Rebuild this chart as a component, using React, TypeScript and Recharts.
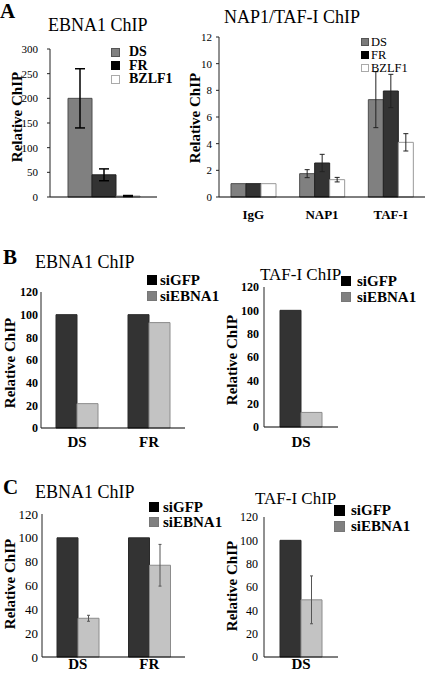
import React from 'react';
import { BarChart, Bar, XAxis, YAxis, ErrorBar, Legend } from 'recharts';

const FONT = "'Liberation Serif', 'Times New Roman', Times, serif";

// ---------- Panel A (left): EBNA1 ChIP ----------
const aLeftCategories = ['EBNA1'];
const aLeftDS = [200];
const aLeftDSErr = [60];
const aLeftFR = [45];
const aLeftFRErr = [12];
const aLeftBZLF1 = [2];
const aLeftBZLF1Err = [1];
const aLeftTicks = [0, 50, 100, 150, 200, 250, 300];

// ---------- Panel A (right): NAP1/TAF-I ChIP ----------
const aRightCategories = ['IgG', 'NAP1', 'TAF-I'];
const aRightDS = [1, 1.75, 7.3];
const aRightDSErr = [null, 0.3, 2.1];
const aRightFR = [1, 2.55, 7.95];
const aRightFRErr = [null, 0.65, 1.25];
const aRightBZLF1 = [1, 1.3, 4.1];
const aRightBZLF1Err = [null, 0.17, 0.65];
const aRightTicks = [0, 2, 4, 6, 8, 10, 12];

// ---------- Panel B ----------
const bLeftCategories = ['DS', 'FR'];
const bLeftSiGFP = [100, 100];
const bLeftSiEBNA1 = [21.5, 93];
const bRightCategories = ['DS'];
const bRightSiGFP = [100];
const bRightSiEBNA1 = [12.5];

// ---------- Panel C ----------
const cLeftCategories = ['DS', 'FR'];
const cLeftSiGFP = [100, 100];
const cLeftSiEBNA1 = [32.5, 77];
const cLeftSiEBNA1Err = [2.5, 17.5];
const cRightCategories = ['DS'];
const cRightSiGFP = [100];
const cRightSiEBNA1 = [49];
const cRightSiEBNA1Err = [20.5];

const siTicks = [0, 20, 40, 60, 80, 100, 120];

type Series = {
  key: string;
  name: string;
  fill: string;
  stroke: string;
  legendFill: string;
  legendStroke: string;
  errKey?: string;
};

type PanelProps = {
  data: any[];
  series: Series[];
  x0: number;
  x1: number;
  yTop: number;
  yBottom: number;
  domainMax: number;
  ticks: number[];
  barSize: number;
  yTickSize: number;
  yTickWeight: any;
  yTickGap: number;
  yTickLine: number;
  showXTicks: boolean;
  xTickSize: number;
  xTickGap: number;
  legend: { x: number; cy: number; row: number; swatch: number; gap: number; size: number; weight: any };
  err: { width: number; stroke: string; strokeWidth: number };
};

const YW = 45;
const MT = 8;
const XH = 30;

function Panel(p: PanelProps) {
  const plotW = p.x1 - p.x0;
  const plotH = p.yBottom - p.yTop;
  const MR = Math.max(2, p.legend.x + 100 - p.x1);
  const left = p.x0 - YW;
  const top = p.yTop - MT;
  const width = YW + plotW + MR;
  const height = MT + plotH + XH;
  const lg = p.legend;
  return (
    <div style={{ position: 'absolute', left, top }}>
      <BarChart
        width={width}
        height={height}
        data={p.data}
        margin={{ top: MT, right: MR, left: 0, bottom: 0 }}
        barGap={0}
        barSize={p.barSize}
      >
        <XAxis
          dataKey="category"
          height={XH}
          axisLine={{ stroke: '#000', strokeWidth: 1 }}
          tickLine={false}
          tickSize={0}
          tickMargin={p.xTickGap}
          tick={p.showXTicks ? { fontFamily: FONT, fontSize: p.xTickSize, fontWeight: 'bold', fill: '#000' } : false}
          interval={0}
        />
        <YAxis
          width={YW}
          domain={[0, p.domainMax]}
          ticks={p.ticks}
          interval={0}
          axisLine={{ stroke: '#222', strokeWidth: 1 }}
          tickLine={p.yTickLine > 0 ? { stroke: '#222', strokeWidth: 1 } : false}
          tickSize={p.yTickLine}
          tickMargin={p.yTickGap}
          tick={{ fontFamily: FONT, fontSize: p.yTickSize, fontWeight: p.yTickWeight, fill: '#000' }}
        />
        <Legend
          layout="vertical"
          align="center"
          verticalAlign="middle"
          wrapperStyle={{
            position: 'absolute',
            left: lg.x - left,
            top: lg.cy - lg.row / 2 - top,
            width: 100,
          }}
          content={(props: any) => {
            const payload = props.payload || [];
            return (
              <div style={{ fontFamily: FONT }}>
                {p.series.map((s, i) => {
                  const item = payload.find((it: any) => it.dataKey === s.key);
                  const label = item ? item.value : s.name;
                  return (
                    <div key={i} style={{ display: 'flex', alignItems: 'center', height: lg.row, overflow: 'visible' }}>
                      <span
                        style={{
                          display: 'inline-block',
                          width: lg.swatch,
                          height: lg.swatch,
                          background: s.legendFill,
                          border: `1px solid ${s.legendStroke}`,
                          boxSizing: 'border-box',
                          marginRight: lg.gap,
                          flex: 'none',
                        }}
                      />
                      <span
                        style={{
                          fontFamily: FONT,
                          fontSize: lg.size,
                          fontWeight: lg.weight,
                          lineHeight: `${lg.row}px`,
                          whiteSpace: 'nowrap',
                          color: '#000',
                        }}
                      >
                        {label}
                      </span>
                    </div>
                  );
                })}
              </div>
            );
          }}
        />
        {p.series.map((s) => (
          <Bar
            key={s.key}
            dataKey={s.key}
            name={s.name}
            fill={s.fill}
            stroke={s.stroke}
            strokeWidth={1}
            isAnimationActive={false}
          >
            {s.errKey ? (
              <ErrorBar
                dataKey={s.errKey}
                width={p.err.width}
                stroke={p.err.stroke}
                strokeWidth={p.err.strokeWidth}
                direction="y"
                isAnimationActive={false}
              />
            ) : null}
          </Bar>
        ))}
      </BarChart>
    </div>
  );
}

function Label(props: { x: number; y: number; text: string; size: number; weight?: any; anchor?: 'start' | 'middle' }) {
  const tx = props.anchor === 'start' ? '0' : '-50%';
  return (
    <div
      style={{
        position: 'absolute',
        left: props.x,
        top: props.y,
        transform: `translate(${tx}, -50%)`,
        fontFamily: FONT,
        fontSize: props.size,
        fontWeight: props.weight || 'normal',
        whiteSpace: 'nowrap',
        lineHeight: 1,
        color: '#000',
      }}
    >
      {props.text}
    </div>
  );
}

function RotLabel(props: { cx: number; cy: number; text: string; size: number }) {
  return (
    <div style={{ position: 'absolute', left: props.cx, top: props.cy, width: 0, height: 0 }}>
      <div
        style={{
          position: 'absolute',
          left: 0,
          top: 0,
          transform: 'translate(-50%, -50%) rotate(-90deg)',
          fontFamily: FONT,
          fontSize: props.size,
          fontWeight: 'bold',
          whiteSpace: 'nowrap',
          lineHeight: 1,
          color: '#000',
        }}
      >
        {props.text}
      </div>
    </div>
  );
}

const aSeries = (legendDSFill: string): Series[] => [
  { key: 'ds', name: 'DS', fill: '#808080', stroke: '#4d4d4d', legendFill: legendDSFill, legendStroke: '#555', errKey: 'dsErr' },
  { key: 'fr', name: 'FR', fill: '#333333', stroke: '#222', legendFill: '#000', legendStroke: '#000', errKey: 'frErr' },
  { key: 'bz', name: 'BZLF1', fill: '#ffffff', stroke: '#999', legendFill: '#fff', legendStroke: '#aaa', errKey: 'bzErr' },
];

const siSeries = (withErr: boolean): Series[] => [
  { key: 'gfp', name: 'siGFP', fill: '#333333', stroke: '#2a2a2a', legendFill: '#000', legendStroke: '#000' },
  { key: 'ebna', name: 'siEBNA1', fill: '#c3c3c3', stroke: '#8c8c8c', legendFill: '#808080', legendStroke: '#777', errKey: withErr ? 'ebnaErr' : undefined },
];

export default function App() {
  const aLeftData = aLeftCategories.map((c, i) => ({
    category: c,
    ds: aLeftDS[i],
    dsErr: aLeftDSErr[i],
    fr: aLeftFR[i],
    frErr: aLeftFRErr[i],
    bz: aLeftBZLF1[i],
    bzErr: aLeftBZLF1Err[i],
  }));
  const aRightData = aRightCategories.map((c, i) => ({
    category: c,
    ds: aRightDS[i],
    dsErr: aRightDSErr[i],
    fr: aRightFR[i],
    frErr: aRightFRErr[i],
    bz: aRightBZLF1[i],
    bzErr: aRightBZLF1Err[i],
  }));
  const bLeftData = bLeftCategories.map((c, i) => ({ category: c, gfp: bLeftSiGFP[i], ebna: bLeftSiEBNA1[i] }));
  const bRightData = bRightCategories.map((c, i) => ({ category: c, gfp: bRightSiGFP[i], ebna: bRightSiEBNA1[i] }));
  const cLeftData = cLeftCategories.map((c, i) => ({ category: c, gfp: cLeftSiGFP[i], ebna: cLeftSiEBNA1[i], ebnaErr: cLeftSiEBNA1Err[i] }));
  const cRightData = cRightCategories.map((c, i) => ({ category: c, gfp: cRightSiGFP[i], ebna: cRightSiEBNA1[i], ebnaErr: cRightSiEBNA1Err[i] }));

  return (
    <div
      style={{
        position: 'absolute',
        left: 0,
        top: 0,
        width: 425,
        height: 677,
        overflow: 'hidden',
        background: '#fff',
      }}
    >
      {/* Panel A */}
      <Panel
        data={aLeftData}
        series={aSeries('#808080')}
        x0={50}
        x1={157}
        yTop={49}
        yBottom={197}
        domainMax={300}
        ticks={aLeftTicks}
        barSize={24}
        yTickSize={11}
        yTickWeight="normal"
        yTickGap={9}
        yTickLine={3}
        showXTicks={false}
        xTickSize={13}
        xTickGap={13}
        legend={{ x: 111, cy: 52, row: 13.5, swatch: 9, gap: 9, size: 14, weight: 'bold' }}
        err={{ width: 5, stroke: '#000', strokeWidth: 1.5 }}
      />
      <Panel
        data={aRightData}
        series={aSeries('#7a7a7a')}
        x0={219}
        x1={425}
        yTop={37}
        yBottom={197}
        domainMax={12}
        ticks={aRightTicks}
        barSize={15}
        yTickSize={11}
        yTickWeight="normal"
        yTickGap={4}
        yTickLine={3}
        showXTicks={true}
        xTickSize={13}
        xTickGap={13}
        legend={{ x: 361, cy: 42, row: 13, swatch: 8, gap: 2, size: 12.5, weight: 'normal' }}
        err={{ width: 2.5, stroke: '#222', strokeWidth: 1 }}
      />
      {/* Panel B */}
      <Panel
        data={bLeftData}
        series={siSeries(false)}
        x0={41}
        x1={185}
        yTop={292}
        yBottom={428}
        domainMax={120}
        ticks={siTicks}
        barSize={21}
        yTickSize={12}
        yTickWeight="bold"
        yTickGap={3}
        yTickLine={0}
        showXTicks={true}
        xTickSize={15}
        xTickGap={8}
        legend={{ x: 147, cy: 280, row: 16, swatch: 10, gap: 3, size: 15, weight: 'bold' }}
        err={{ width: 1.5, stroke: '#555', strokeWidth: 1 }}
      />
      <Panel
        data={bRightData}
        series={siSeries(false)}
        x0={264}
        x1={338}
        yTop={287}
        yBottom={427}
        domainMax={120}
        ticks={siTicks}
        barSize={21}
        yTickSize={12}
        yTickWeight="bold"
        yTickGap={5}
        yTickLine={0}
        showXTicks={true}
        xTickSize={15}
        xTickGap={9}
        legend={{ x: 341, cy: 281, row: 16, swatch: 10, gap: 6, size: 15, weight: 'bold' }}
        err={{ width: 1.5, stroke: '#555', strokeWidth: 1 }}
      />
      {/* Panel C */}
      <Panel
        data={cLeftData}
        series={siSeries(true)}
        x0={42}
        x1={185}
        yTop={514}
        yBottom={657}
        domainMax={120}
        ticks={siTicks}
        barSize={21}
        yTickSize={13}
        yTickWeight="normal"
        yTickGap={4}
        yTickLine={0}
        showXTicks={true}
        xTickSize={15}
        xTickGap={1}
        legend={{ x: 149, cy: 507, row: 15, swatch: 10, gap: 4, size: 15, weight: 'bold' }}
        err={{ width: 1.5, stroke: '#555', strokeWidth: 1 }}
      />
      <Panel
        data={cRightData}
        series={siSeries(true)}
        x0={264}
        x1={338}
        yTop={517}
        yBottom={657}
        domainMax={120}
        ticks={siTicks}
        barSize={21}
        yTickSize={12}
        yTickWeight="normal"
        yTickGap={6}
        yTickLine={0}
        showXTicks={true}
        xTickSize={15}
        xTickGap={1}
        legend={{ x: 334, cy: 510, row: 16, swatch: 11, gap: 6, size: 15, weight: 'bold' }}
        err={{ width: 1.5, stroke: '#555', strokeWidth: 1 }}
      />

      {/* Panel letters */}
      <Label x={0} y={11} text="A" size={21} weight="bold" anchor="start" />
      <Label x={3} y={257} text="B" size={21} weight="bold" anchor="start" />
      <Label x={3} y={487} text="C" size={21} weight="bold" anchor="start" />

      {/* Titles */}
      <Label x={48} y={25} text="EBNA1 ChIP" size={18} anchor="start" />
      <Label x={224} y={17} text="NAP1/TAF-I ChIP" size={18} anchor="start" />
      <Label x={35} y={262} text="EBNA1 ChIP" size={18} anchor="start" />
      <Label x={260} y={274} text="TAF-I ChIP" size={17} anchor="start" />
      <Label x={35} y={492} text="EBNA1 ChIP" size={18} anchor="start" />
      <Label x={255} y={498} text="TAF-I ChIP" size={17} anchor="start" />

      {/* Y axis titles */}
      <RotLabel cx={17} cy={117} text="Relative ChIP" size={15} />
      <RotLabel cx={195} cy={118} text="Relative ChIP" size={15} />
      <RotLabel cx={10} cy={363} text="Relative ChIP" size={15} />
      <RotLabel cx={232} cy={360} text="Relative ChIP" size={15} />
      <RotLabel cx={10} cy={584} text="Relative ChIP" size={15} />
      <RotLabel cx={232} cy={586} text="Relative ChIP" size={15} />
    </div>
  );
}
